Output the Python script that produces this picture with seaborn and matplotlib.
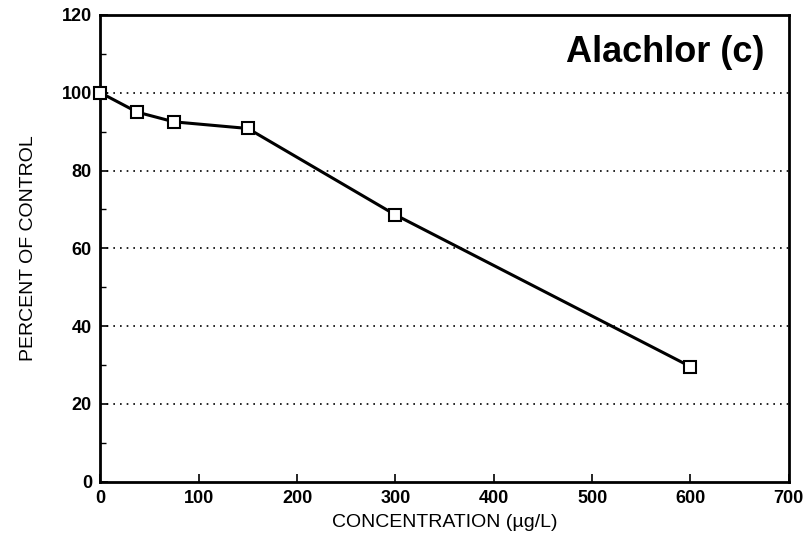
import matplotlib
matplotlib.use("Agg")
import matplotlib.pyplot as plt
import seaborn as sns
import pandas as pd
from matplotlib.ticker import MultipleLocator

concentration = [0, 37.5, 75, 150, 300, 600]
percent_control = [100, 95.0, 92.5, 90.8, 68.6, 29.6]
x_ticks = [0, 100, 200, 300, 400, 500, 600, 700]
y_ticks = [0, 20, 40, 60, 80, 100, 120]

sns.set_style("white")
plt.rcParams['font.family'] = ['Liberation Sans', 'DejaVu Sans']
plt.rcParams['text.color'] = 'black'
plt.rcParams['axes.labelcolor'] = 'black'
plt.rcParams['xtick.color'] = 'black'
plt.rcParams['ytick.color'] = 'black'

df = pd.DataFrame({"conc": concentration, "pct": percent_control})

fig = plt.figure(figsize=(8.09, 5.5), dpi=100)
ax = fig.add_axes([0.124, 0.124, 0.851, 0.849])

sns.lineplot(data=df, x="conc", y="pct", ax=ax, color="black", linewidth=2.2,
             marker="s", markersize=8, markerfacecolor="white",
             markeredgecolor="black", markeredgewidth=1.5, clip_on=False, zorder=3)

ax.set_xlim(0, 700)
ax.set_ylim(0, 120)
ax.set_xticks(x_ticks)
ax.set_yticks(y_ticks)
ax.yaxis.set_minor_locator(MultipleLocator(10))
ax.tick_params(axis="both", which="major", direction="in", length=6, width=1.2,
               labelsize=13, pad=6, colors="black", bottom=True, left=True)
ax.tick_params(axis="y", which="minor", direction="in", length=4, width=1.0, left=True)
ax.tick_params(axis="x", which="minor", length=0)
for lab in ax.get_xticklabels() + ax.get_yticklabels():
    lab.set_fontweight("bold")

for yv in [20, 40, 60, 80, 100]:
    ax.axhline(yv, color="black", linestyle=(0, (1, 3)), linewidth=1.2, zorder=1)

for s in ax.spines.values():
    s.set_visible(True)
    s.set_color("black")
    s.set_linewidth(2.0)

ax.set_xlabel("CONCENTRATION (µg/L)", fontsize=14, labelpad=5)
ax.set_ylabel("PERCENT OF CONTROL", fontsize=14, labelpad=18)

ax.text(0.965, 0.92, "Alachlor (c)", transform=ax.transAxes, ha="right", va="center",
        fontsize=26, fontweight="bold")

fig.savefig("out.png", dpi=100, facecolor="white")
